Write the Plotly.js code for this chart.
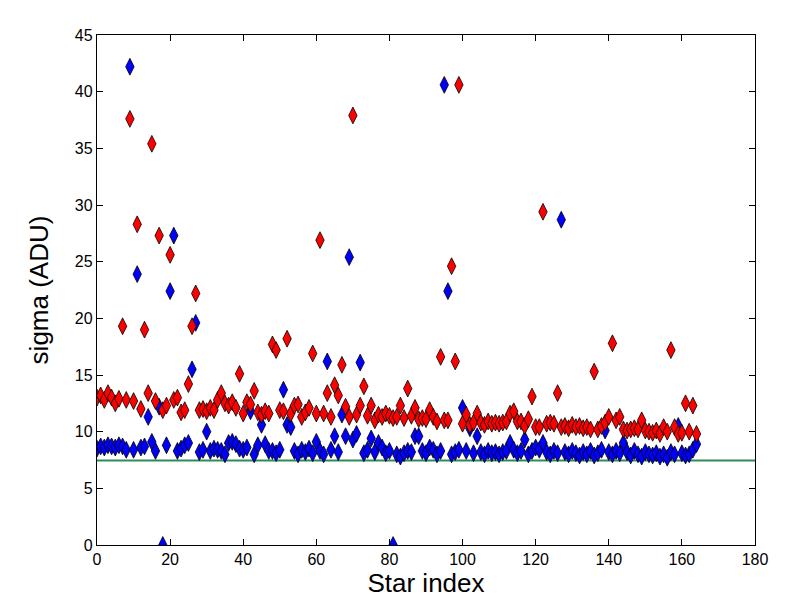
<!DOCTYPE html>
<html>
<head>
<meta charset="utf-8">
<script src="https://cdn.plot.ly/plotly-3.0.1.min.js"></script>
<style>
  html, body { margin: 0; padding: 0; background: #fff; }
  #chart { width: 812px; height: 603px; }
</style>
</head>
<body>
<div id="chart"></div>
<script>
// sigma per star, two measurements + noise floor

const redSigma = [
  13.0, 13.2, 12.8, 13.4, 13.0, 12.5, 12.9, 19.3, 12.8, 37.6,
  12.7, 28.3, 12.0, 19.0, 13.4, 35.4, 12.7, 27.3, 11.9, 12.3,
  25.6, 12.8, 13.0, 11.7, 11.9, 14.2, 19.3, 22.2, 11.9, 12.0,
  11.8, 12.1, 11.9, 12.8, 13.4, 12.5, 12.3, 12.6, 12.1, 15.1,
  11.6, 12.6, 12.4, 13.6, 11.7, 11.5, 11.8, 11.6, 17.7, 17.2,
  11.9, 11.8, 18.2, 11.6, 12.3, 12.4, 11.3, 11.7, 12.1, 16.9,
  11.6, 26.9, 11.6, 13.4, 11.3, 14.1, 13.2, 15.9, 12.2, 11.3,
  37.9, 11.5, 12.3, 14.0, 11.4, 12.3, 11.0, 11.5, 11.3, 11.6,
  11.4, 11.2, 11.3, 12.3, 11.2, 13.8, 11.4, 12.1, 11.1, 11.2,
  11.1, 11.9, 11.3, 10.9, 16.6, 11.0, 11.0, 24.6, 16.2, 40.6,
  10.7, 11.5, 10.6, 10.8, 11.6, 10.8, 10.6, 10.9, 10.7, 10.8,
  10.7, 10.8, 10.9, 11.6, 11.8, 10.9, 10.9, 10.5, 11.1, 13.1,
  10.4, 10.4, 29.4, 10.7, 10.8, 10.7, 13.4, 10.4, 10.5, 10.3,
  10.6, 10.4, 10.5, 10.3, 10.4, 10.2, 15.3, 10.2, 10.5, 10.8,
  11.3, 17.8, 11.0, 11.3, 10.2, 10.1, 10.2, 10.3, 10.2, 11.0,
  10.1, 10.0, 9.9, 10.1, 9.8, 10.4, 10.0, 17.2, 10.4, 9.8,
  9.9, 12.5, 10.0, 12.3, 9.8
];

const blueSigma = [
  8.5, 8.7, 8.6, 8.8, 8.7, 8.6, 8.8, 8.7, 8.4, 42.2,
  8.4, 23.9, 8.6, 8.7, 11.3, 9.1, 8.3, 12.2, 0.0, 8.8,
  22.4, 27.3, 8.3, 8.5, 8.8, 9.0, 15.5, 19.6, 8.2, 8.4,
  10.0, 8.3, 8.5, 8.4, 8.3, 8.0, 9.0, 9.1, 8.9, 8.5,
  8.4, 8.6, 11.8, 8.0, 8.8, 10.6, 8.9, 8.3, 8.3, 8.1,
  8.4, 13.7, 10.6, 10.4, 8.3, 8.0, 8.4, 8.2, 8.5, 8.1,
  9.1, 8.3, 8.0, 16.2, 8.4, 9.6, 8.2, 11.5, 9.6, 25.4,
  9.3, 9.8, 16.1, 8.1, 8.4, 9.4, 8.2, 9.0, 8.6, 8.1,
  8.3, 0.0, 8.0, 7.8, 8.1, 8.3, 8.2, 9.6, 9.6, 8.3,
  8.1, 8.6, 8.4, 8.0, 8.3, 40.6, 22.4, 8.0, 8.2, 8.4,
  12.1, 8.3, 10.3, 8.1, 9.6, 8.2, 8.0, 8.3, 8.1, 8.2,
  8.0, 8.2, 8.3, 9.0, 8.4, 8.1, 8.3, 9.3, 8.0, 8.3,
  8.6, 8.4, 9.0, 8.2, 8.0, 8.3, 8.1, 28.7, 8.2, 8.0,
  8.3, 8.1, 7.9, 8.2, 8.0, 8.3, 7.9, 8.1, 8.4, 10.1,
  8.2, 8.0, 8.3, 8.1, 9.0, 8.2, 7.9, 8.3, 8.0, 7.8,
  8.2, 8.0, 7.9, 8.1, 7.8, 8.0, 7.7, 8.2, 8.0, 10.5,
  8.1, 7.9, 8.0, 8.4, 8.9
];

const floorX = [0, 180];
const floorY = [7.45, 7.45];

const starIndex = redSigma.map((_, i) => i);

const FONT = '"Liberation Sans", Arial, Helvetica, sans-serif';

const traces = [
  {
    x: floorX,
    y: floorY,
    type: "scatter",
    mode: "lines",
    line: { color: "#2e8a5c", width: 2 },
    hoverinfo: "skip",
  },
  {
    x: starIndex,
    y: blueSigma,
    type: "scatter",
    mode: "markers",
    marker: { symbol: "diamond-tall", size: 12, color: "#0000ff", line: { color: "#000", width: 0.8 } },
  },
  {
    x: starIndex,
    y: redSigma,
    type: "scatter",
    mode: "markers",
    marker: { symbol: "diamond-tall", size: 12, color: "#ff0000", line: { color: "#000", width: 0.8 } },
  },
];

const axisCommon = {
  showgrid: false,
  zeroline: false,
  showline: true,
  linecolor: "#000",
  linewidth: 1.2,
  mirror: "allticks",
  ticks: "inside",
  ticklen: 6,
  tickwidth: 1,
  tickcolor: "#000",
  tickfont: { family: FONT, size: 16, color: "#000" },
};

const layout = {
  width: 812,
  height: 603,
  paper_bgcolor: "#fff",
  plot_bgcolor: "#fff",
  showlegend: false,
  margin: { l: 97, r: 57, t: 35, b: 58 },
  font: { family: FONT, color: "#000" },
  xaxis: {
    ...axisCommon,
    range: [0, 180],
    dtick: 20,
    title: { text: "Star index", font: { family: FONT, size: 26, color: "#000" }, standoff: 4 },
  },
  yaxis: {
    ...axisCommon,
    range: [0, 45],
    dtick: 5,
    title: { text: "sigma (ADU)", font: { family: FONT, size: 26, color: "#000" }, standoff: 18 },
  },
};

Plotly.newPlot("chart", traces, layout, { displayModeBar: false, staticPlot: true });
</script>
</body>
</html>
